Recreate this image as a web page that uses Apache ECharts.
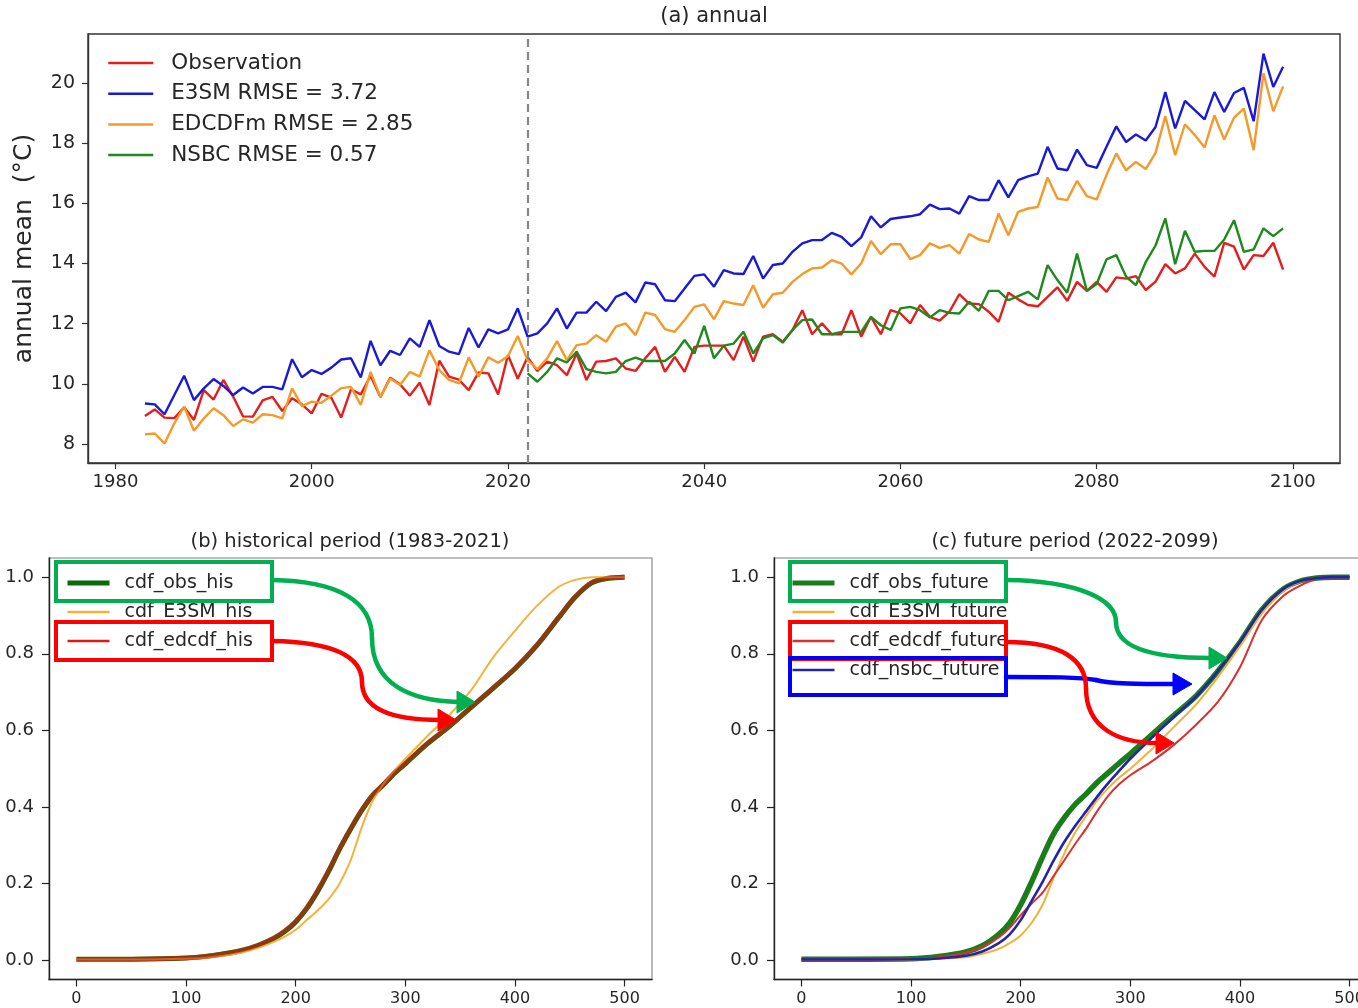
<!DOCTYPE html>
<html>
<head>
<meta charset="utf-8">
<script src="https://cdn.jsdelivr.net/npm/echarts@6/dist/echarts.min.js"></script>
<style>
  html, body { margin: 0; padding: 0; background: #ffffff; overflow: hidden; }
  #chart { width: 1358px; height: 1008px; }
</style>
</head>
<body>
<div id="chart"></div>
<script>
// ---------- (a) annual mean series, one value per year ----------
const firstYear = 1983;
const splitYear = 2022;          // start of the future period (dashed line)
const nsbcFirstYear = 2022;

const observation = [
  8.93, 9.15, 8.88, 8.86, 9.22, 8.80, 9.79, 9.48, 10.13, 9.57,
  8.92, 8.91, 9.45, 9.57, 9.10, 9.52, 9.32, 9.02, 9.67, 9.54,
  8.88, 9.82, 9.65, 10.27, 9.56, 10.20, 9.99, 9.61, 10.04, 9.30,
  10.77, 10.24, 10.14, 9.79, 10.38, 10.35, 9.65, 10.96, 10.17, 10.89,
  10.43, 10.74, 10.62, 10.29, 11.01, 10.13, 10.74, 10.76, 10.85, 10.51,
  10.43, 10.85, 11.23, 10.40, 10.90, 10.40, 11.23, 11.27, 11.27, 11.27,
  10.79, 11.57, 10.74, 11.57, 11.65, 11.40, 11.79, 12.45, 11.65, 12.01,
  11.65, 11.65, 12.45, 11.57, 12.23, 11.65, 12.45, 12.34, 12.01, 12.62,
  12.23, 12.10, 12.40, 12.98, 12.67, 12.65, 12.40, 12.06, 13.03, 12.81,
  12.62, 12.58, 12.89, 13.21, 12.76, 13.39, 13.09, 13.39, 13.06, 13.54,
  13.50, 13.58, 13.12, 13.40, 13.98, 13.67, 13.84, 14.33, 13.89, 13.56,
  14.69, 14.56, 13.80, 14.28, 14.25, 14.69, 13.80
];

const e3sm = [
  9.35, 9.32, 8.99, 9.63, 10.27, 9.46, 9.85, 10.16, 9.93, 9.63,
  9.88, 9.68, 9.90, 9.90, 9.82, 10.82, 10.22, 10.46, 10.33, 10.54,
  10.81, 10.85, 10.21, 11.43, 10.62, 11.10, 10.96, 11.51, 11.23, 12.12,
  11.26, 11.07, 10.99, 11.86, 11.21, 11.81, 11.68, 11.81, 12.51, 11.57,
  11.68, 12.01, 12.51, 11.84, 12.37, 12.37, 12.73, 12.42, 12.89, 13.03,
  12.71, 13.37, 13.31, 12.78, 12.75, 13.17, 13.59, 13.64, 13.23, 13.78,
  13.67, 13.65, 14.25, 13.50, 13.95, 14.00, 14.39, 14.67, 14.78, 14.78,
  15.02, 14.89, 14.58, 14.87, 15.57, 15.20, 15.48, 15.53, 15.57, 15.64,
  15.96, 15.81, 15.83, 15.66, 16.24, 16.11, 16.11, 16.77, 16.20, 16.77,
  16.90, 16.99, 17.88, 17.16, 17.10, 17.79, 17.27, 17.18, 17.88, 18.56,
  18.04, 18.29, 18.09, 18.54, 19.70, 18.49, 19.41, 19.10, 18.79, 19.70,
  19.04, 19.67, 19.84, 18.73, 20.98, 19.87, 20.54
];

const edcdfm = [
  8.32, 8.35, 8.02, 8.69, 9.24, 8.44, 8.85, 9.19, 8.96, 8.60,
  8.82, 8.71, 8.99, 8.96, 8.85, 9.85, 9.26, 9.41, 9.37, 9.61,
  9.86, 9.90, 9.30, 10.40, 9.57, 10.18, 9.96, 10.40, 10.24, 11.12,
  10.46, 10.13, 10.02, 10.88, 10.24, 10.88, 10.70, 10.92, 11.59, 10.79,
  10.49, 10.85, 11.42, 10.79, 11.29, 11.34, 11.62, 11.40, 11.90, 12.01,
  11.62, 12.37, 12.29, 11.82, 11.73, 12.12, 12.56, 12.64, 12.15, 12.75,
  12.67, 12.62, 13.28, 12.53, 12.98, 13.03, 13.39, 13.65, 13.84, 13.87,
  14.11, 14.00, 13.64, 14.00, 14.75, 14.31, 14.64, 14.64, 14.15, 14.28,
  14.67, 14.52, 14.61, 14.33, 14.98, 14.80, 14.72, 15.66, 14.94, 15.72,
  15.83, 15.88, 16.86, 16.16, 16.11, 16.75, 16.24, 16.13, 16.94, 17.66,
  17.10, 17.38, 17.14, 17.68, 18.90, 17.60, 18.63, 18.27, 17.86, 18.93,
  18.12, 18.85, 19.15, 17.77, 20.32, 19.06, 19.89
];

const nsbc = [
  10.35, 10.07, 10.40, 10.85, 10.71, 11.07, 10.49, 10.40, 10.35, 10.40,
  10.76, 10.87, 10.76, 10.76, 10.76, 11.01, 11.46, 11.01, 11.93, 10.85,
  11.27, 11.34, 11.73, 11.01, 11.51, 11.62, 11.37, 11.79, 12.12, 12.14,
  11.65, 11.65, 11.73, 11.73, 11.73, 12.23, 11.95, 11.79, 12.51, 12.56,
  12.45, 12.21, 12.45, 12.36, 12.34, 12.73, 12.43, 13.09, 13.09, 12.78,
  12.92, 13.06, 12.81, 13.95, 13.45, 13.03, 14.33, 13.09, 13.32, 14.14,
  14.28, 13.56, 13.28, 14.05, 14.60, 15.50, 13.98, 15.09, 14.39, 14.42,
  14.42, 14.80, 15.44, 14.39, 14.47, 15.17, 14.91, 15.17
];

const yearTicks = [1980, 2000, 2020, 2040, 2060, 2080, 2100];
const tempTicks = [8, 10, 12, 14, 16, 18, 20];

// ---------- (b)/(c) cumulative distribution curves ----------
const cdfX = [0, 50, 100, 125, 150, 165, 180, 190, 200, 210, 220, 230, 240, 250, 260,
              270, 280, 290, 300, 320, 340, 360, 380, 400, 420, 440, 455, 470, 485, 500];

const cdfObsHis = [0.003, 0.003, 0.006, 0.013, 0.025, 0.038, 0.057, 0.075, 0.100, 0.135, 0.180, 0.232, 0.290, 0.342, 0.390,
                   0.430, 0.458, 0.488, 0.513, 0.565, 0.610, 0.660, 0.710, 0.761, 0.822, 0.895, 0.948, 0.985, 0.997, 1.000];
const cdfE3smHis = [0.002, 0.002, 0.004, 0.009, 0.020, 0.032, 0.048, 0.062, 0.080, 0.105, 0.130, 0.160, 0.200, 0.260, 0.345,
                    0.415, 0.460, 0.495, 0.526, 0.585, 0.640, 0.705, 0.790, 0.860, 0.925, 0.975, 0.993, 1.000, 1.000, 1.000];
const cdfEdcdfHis = [0.003, 0.003, 0.006, 0.013, 0.026, 0.039, 0.058, 0.077, 0.102, 0.137, 0.182, 0.234, 0.291, 0.343, 0.391,
                     0.431, 0.459, 0.489, 0.514, 0.566, 0.611, 0.661, 0.711, 0.762, 0.823, 0.896, 0.949, 0.986, 0.997, 1.000];

const cdfObsFut = [0.003, 0.003, 0.004, 0.010, 0.022, 0.038, 0.068, 0.098, 0.145, 0.205, 0.270, 0.330, 0.373, 0.408, 0.435,
                   0.465, 0.490, 0.515, 0.539, 0.590, 0.640, 0.690, 0.755, 0.830, 0.915, 0.970, 0.990, 0.998, 1.000, 1.000];
const cdfE3smFut = [0.001, 0.001, 0.002, 0.004, 0.008, 0.017, 0.030, 0.045, 0.065, 0.098, 0.145, 0.215, 0.280, 0.335, 0.378,
                    0.418, 0.450, 0.477, 0.500, 0.552, 0.610, 0.668, 0.740, 0.820, 0.905, 0.965, 0.988, 0.998, 1.000, 1.000];
const cdfEdcdfFut = [0.002, 0.002, 0.004, 0.008, 0.020, 0.035, 0.060, 0.085, 0.118, 0.148, 0.177, 0.220, 0.262, 0.305, 0.345,
                     0.390, 0.430, 0.460, 0.483, 0.520, 0.563, 0.615, 0.675, 0.765, 0.888, 0.952, 0.978, 0.995, 1.000, 1.000];
const cdfNsbcFut = [0.002, 0.002, 0.003, 0.005, 0.012, 0.023, 0.045, 0.068, 0.105, 0.155, 0.205, 0.260, 0.310, 0.352, 0.390,
                    0.428, 0.463, 0.495, 0.526, 0.582, 0.636, 0.688, 0.755, 0.830, 0.915, 0.970, 0.990, 0.998, 1.000, 1.000];

const cdfXTicks = [0, 100, 200, 300, 400, 500];
const cdfYTicks = [0, 0.2, 0.4, 0.6, 0.8, 1.0];

// ---------- helpers ----------
const FONT = 'DejaVu Sans';
const TXT = '#262626';
const byYear = (arr, start) => arr.map((v, i) => [start + i, v]);
const byCdf = arr => arr.map((v, i) => [cdfX[i], v]);
const plain = v => String(v);

function valueAxis(gridIndex, min, max, ticks, opts) {
  return Object.assign({
    type: 'value', gridIndex, min, max,
    splitLine: { show: false },
    axisLine: { show: true, onZero: false, lineStyle: { color: opts.line, width: 1.4 } },
    axisTick: { show: true, length: opts.tick, inside: false, customValues: ticks,
                lineStyle: { color: opts.line, width: 1.2 } },
    axisLabel: { customValues: ticks, margin: opts.margin, fontFamily: FONT,
                 fontSize: opts.size, color: TXT, formatter: opts.fmt || plain }
  }, opts.extra || {});
}

const chart = echarts.init(document.getElementById('chart'), null, { renderer: 'canvas' });

const lineSeries = (name, data, xi, color, width, extra) => Object.assign({
  name, type: 'line', data, xAxisIndex: xi, yAxisIndex: xi,
  symbol: 'none', showSymbol: false, silent: true, animation: false,
  lineStyle: { color, width }, itemStyle: { color }
}, extra || {});

const GREEN_BOX = '#00b050', RED_BOX = '#ff0000', BLUE_BOX = '#0000ff';

// annotation frames round legend entries and the arrows pointing at the curves
const strokeStyle = color => ({ stroke: color, lineWidth: 4.5, fill: null, lineCap: 'round' });
// one cubic segment: [x1, y1, cp1x, cp1y, cp2x, cp2y, x2, y2]
function curve(seg, color) {
  const [x1, y1, cpx1, cpy1, cpx2, cpy2, x2, y2] = seg;
  return { type: 'bezierCurve', z: 100,
           shape: { x1, y1, cpx1, cpy1, cpx2, cpy2, x2, y2 }, style: strokeStyle(color) };
}
function arrowHead(points, color) {
  return { type: 'polygon', z: 101, shape: { points }, style: { fill: color, stroke: color, lineWidth: 1 } };
}
function frame(x, y, w, h, color) {
  return { type: 'rect', z: 100, shape: { x, y, width: w, height: h },
           style: { fill: null, stroke: color, lineWidth: 4 } };
}

const graphics = [
  // panel (b)
  frame(56, 562, 216, 39, GREEN_BOX),
  frame(56, 622, 216, 38, RED_BOX),
  curve([272, 580, 340, 581, 372, 602, 372, 638], GREEN_BOX),
  curve([372, 638, 372, 684, 410, 701, 459, 702], GREEN_BOX),
  arrowHead([[457, 691], [457, 713], [475, 702]], GREEN_BOX),
  curve([272, 641, 330, 642, 362, 655, 362, 682], RED_BOX),
  curve([362, 682, 362, 712, 398, 720, 440, 720], RED_BOX),
  arrowHead([[438, 709], [438, 731], [456, 720]], RED_BOX),

  // panel (c)
  frame(790, 562, 216, 39, GREEN_BOX),
  frame(790, 622, 216, 37, RED_BOX),
  frame(790, 658, 216, 37, BLUE_BOX),
  curve([1006, 580, 1080, 581, 1116, 600, 1116, 622], GREEN_BOX),
  curve([1116, 622, 1116, 650, 1160, 658, 1210, 658], GREEN_BOX),
  arrowHead([[1209, 647], [1209, 669], [1227, 658]], GREEN_BOX),
  curve([1006, 677, 1050, 677, 1080, 677, 1096, 680], BLUE_BOX),
  curve([1096, 680, 1110, 684, 1140, 684, 1175, 684], BLUE_BOX),
  arrowHead([[1173, 673], [1173, 695], [1192, 684]], BLUE_BOX),
  curve([1006, 642, 1062, 642, 1086, 660, 1086, 688], RED_BOX),
  curve([1086, 688, 1086, 728, 1118, 743, 1157, 743], RED_BOX),
  arrowHead([[1156, 732], [1156, 754], [1174, 743]], RED_BOX)
];

const topAxisOpts = { line: '#333', tick: 6, margin: 13, size: 19 };
const cdfAxisOpts = { line: '#222', tick: 7, margin: 12, size: 16 };

// legend entries show only the line sample (no marker)
const hiddenMarker = { opacity: 0 };

const option = {
  backgroundColor: '#ffffff',
  animation: false,
  title: [
    { text: '(a) annual', left: 714, top: 5, textAlign: 'center', padding: 0,
      textStyle: { fontFamily: FONT, fontSize: 21, fontWeight: 'normal', color: TXT, lineHeight: 24 } },
    { text: '(b) historical period (1983-2021)', left: 350, top: 531, textAlign: 'center', padding: 0,
      textStyle: { fontFamily: FONT, fontSize: 19.5, fontWeight: 'normal', color: TXT, lineHeight: 22 } },
    { text: '(c) future period (2022-2099)', left: 1075, top: 531, textAlign: 'center', padding: 0,
      textStyle: { fontFamily: FONT, fontSize: 19.5, fontWeight: 'normal', color: TXT, lineHeight: 22 } }
  ],
  grid: [
    { left: 88, top: 34, width: 1252, height: 429, show: true, borderColor: '#333', borderWidth: 1.4,
      backgroundColor: 'transparent', outerBoundsMode: 'none', containLabel: false },
    { left: 49, top: 558, width: 603, height: 421.5, show: true, borderColor: '#a8a8a8', borderWidth: 1.6,
      backgroundColor: 'transparent', outerBoundsMode: 'none', containLabel: false },
    { left: 774, top: 558, width: 603, height: 421.5, show: true, borderColor: '#a8a8a8', borderWidth: 1.6,
      backgroundColor: 'transparent', outerBoundsMode: 'none', containLabel: false }
  ],
  xAxis: [
    valueAxis(0, 1977.2, 2104.8, yearTicks, Object.assign({}, topAxisOpts, { size: 18, margin: 10 })),
    valueAxis(1, -25, 525, cdfXTicks, Object.assign({}, cdfAxisOpts, { margin: 11 })),
    valueAxis(2, -25, 525, cdfXTicks, Object.assign({}, cdfAxisOpts, { margin: 11 }))
  ],
  yAxis: [
    valueAxis(0, 7.37, 21.63, tempTicks, Object.assign({}, topAxisOpts, {
      extra: { name: 'annual mean  (°C)', nameLocation: 'middle', nameGap: 51, nameMoveOverlap: false,
               nameTextStyle: { fontFamily: FONT, fontSize: 25, color: TXT } } })),
    valueAxis(1, -0.05, 1.05, cdfYTicks, Object.assign({}, cdfAxisOpts, { size: 18, margin: 15, fmt: v => v.toFixed(1) })),
    valueAxis(2, -0.05, 1.05, cdfYTicks, Object.assign({}, cdfAxisOpts, { size: 18, margin: 15, fmt: v => v.toFixed(1) }))
  ],
  legend: [
    { orient: 'vertical', left: 107, top: 52, padding: 0, itemWidth: 45, itemHeight: 22, itemGap: 8.7,
      selectedMode: false, lineStyle: { width: 2.5 }, itemStyle: hiddenMarker,
      textStyle: { fontFamily: FONT, fontSize: 21.5, color: TXT, lineHeight: 22, padding: [0, 0, 0, 13] },
      data: ['Observation', 'E3SM RMSE = 3.72', 'EDCDFm RMSE = 2.85', 'NSBC RMSE = 0.57'] },
    { orient: 'vertical', left: 65, top: 573, padding: 0, itemWidth: 42, itemHeight: 20, itemGap: 9,
      selectedMode: false, itemStyle: hiddenMarker,
      textStyle: { fontFamily: FONT, fontSize: 19, color: TXT, lineHeight: 20, padding: [0, 0, 0, 10] },
      data: [ { name: 'cdf_obs_his', lineStyle: { width: 5 }, itemStyle: hiddenMarker },
              { name: 'cdf_E3SM_his', lineStyle: { width: 2.5 }, itemStyle: hiddenMarker },
              { name: 'cdf_edcdf_his', lineStyle: { width: 2.5, opacity: 1 }, itemStyle: hiddenMarker } ] },
    { orient: 'vertical', left: 790, top: 573, padding: 0, itemWidth: 42, itemHeight: 20, itemGap: 9,
      selectedMode: false, itemStyle: hiddenMarker,
      textStyle: { fontFamily: FONT, fontSize: 19, color: TXT, lineHeight: 20, padding: [0, 0, 0, 10] },
      data: [ { name: 'cdf_obs_future', lineStyle: { width: 5 }, itemStyle: hiddenMarker },
              { name: 'cdf_E3SM_future', lineStyle: { width: 2.5 }, itemStyle: hiddenMarker },
              { name: 'cdf_edcdf_future', lineStyle: { width: 2.5 }, itemStyle: hiddenMarker },
              { name: 'cdf_nsbc_future', lineStyle: { width: 2.5 }, itemStyle: hiddenMarker } ] }
  ],
  series: [
    lineSeries('Observation', byYear(observation, firstYear), 0, '#e41e1e', 2.4),
    lineSeries('E3SM RMSE = 3.72', byYear(e3sm, firstYear), 0, '#1a1ad6', 2.4, {
      markLine: { silent: true, symbol: 'none', animation: false,
                  label: { show: false },
                  lineStyle: { color: '#858585', width: 2.2, type: [8, 5] },
                  data: [{ xAxis: splitYear }] } }),
    lineSeries('EDCDFm RMSE = 2.85', byYear(edcdfm, firstYear), 0, '#f59a2a', 2.4),
    lineSeries('NSBC RMSE = 0.57', byYear(nsbc, nsbcFirstYear), 0, '#1e8a1e', 2.4),

    lineSeries('cdf_obs_his', byCdf(cdfObsHis), 1, '#0b6b0b', 5, { smooth: 0.3 }),
    lineSeries('cdf_E3SM_his', byCdf(cdfE3smHis), 1, '#f4b23c', 2, { smooth: 0.3 }),
    lineSeries('cdf_edcdf_his', byCdf(cdfEdcdfHis), 1, '#e01a10', 4.6, { smooth: 0.3,
      lineStyle: { color: '#e01a10', width: 4.6, opacity: 0.6 } }),

    lineSeries('cdf_obs_future', byCdf(cdfObsFut), 2, '#1a7d1a', 5.5, { smooth: 0.3 }),
    lineSeries('cdf_E3SM_future', byCdf(cdfE3smFut), 2, '#f2b23a', 2, { smooth: 0.3 }),
    lineSeries('cdf_edcdf_future', byCdf(cdfEdcdfFut), 2, '#d83030', 2, { smooth: 0.3 }),
    lineSeries('cdf_nsbc_future', byCdf(cdfNsbcFut), 2, '#2424a8', 2.6, { smooth: 0.3 })
  ],
  graphic: graphics
};

chart.setOption(option);
</script>
</body>
</html>
